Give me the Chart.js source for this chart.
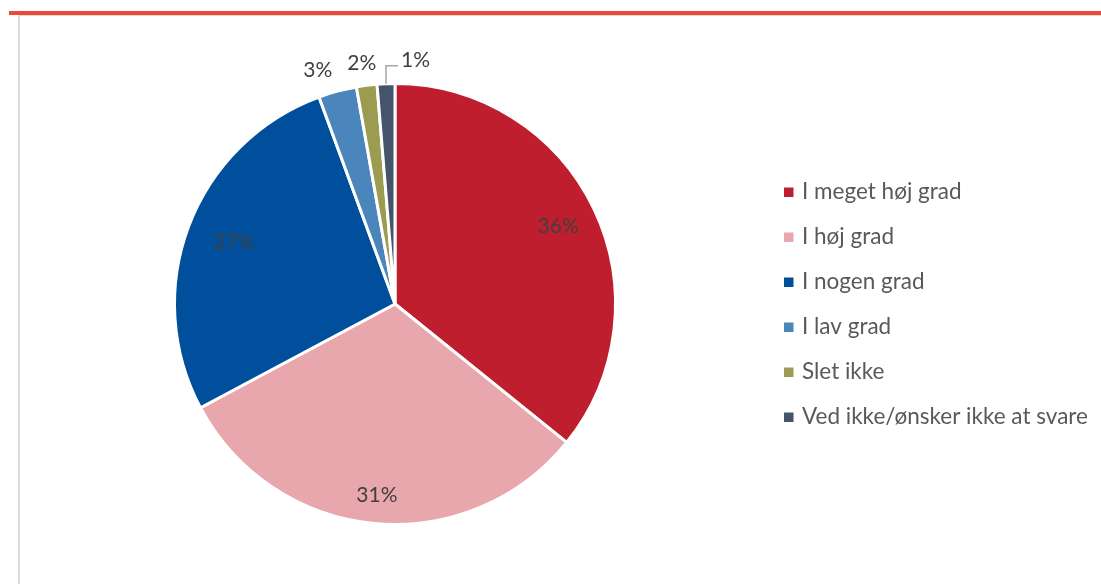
<!DOCTYPE html>
<html>
<head>
<meta charset="utf-8">
<script src="https://cdn.jsdelivr.net/npm/chart.js@4.4.1/dist/chart.umd.min.js"></script>
<style>
  html, body { margin: 0; padding: 0; background: #fff; }
  #wrap { position: relative; width: 1101px; height: 584px; overflow: hidden; }
  #topline { position: absolute; left: 9px; top: 11px; right: 0; height: 4px; background: #f04638; }
  #hline { position: absolute; left: 18px; top: 15px; right: 0; height: 1px; background: #dcdcdc; }
  #vline { position: absolute; left: 18px; top: 15px; bottom: 0; width: 2px; background: #dcdcdc; }
  canvas { position: absolute; left: 0; top: 0; }
</style>
</head>
<body>
<div id="wrap">
  <canvas id="chart" width="1101" height="584"></canvas>
  <div id="topline"></div>
  <div id="hline"></div>
  <div id="vline"></div>
</div>
<script>
const categories = [
  "I meget høj grad",
  "I høj grad",
  "I nogen grad",
  "I lav grad",
  "Slet ikke",
  "Ved ikke/ønsker ikke at svare"
];
const shares = [35.8, 31.4, 27.2, 2.8, 1.5, 1.3];
const colors = ["#be1e2d", "#e8a7ad", "#004f9c", "#4a85bb", "#9c9b52", "#44546a"];

const FONT = "Lato, 'Open Sans', sans-serif";

const pieLabels = {
  id: "pieLabels",
  afterDatasetsDraw(chart) {
    const ctx = chart.ctx;
    const meta = chart.getDatasetMeta(0);
    const insideR = [0.82, 0.87, 0.78];
    const outsideDx = { 3: -14, 4: -2 };
    ctx.save();
    ctx.font = "21px " + FONT;
    ctx.fillStyle = "#404040";
    ctx.textBaseline = "middle";
    meta.data.forEach(function (arc, i) {
      const p = arc.getProps(["x", "y", "startAngle", "endAngle", "outerRadius"], true);
      const mid = (p.startAngle + p.endAngle) / 2;
      const txt = Math.round(shares[i]) + "%";
      const cos = Math.cos(mid), sin = Math.sin(mid);
      if (i < 3) {
        const r = p.outerRadius * insideR[i];
        ctx.textAlign = "center";
        ctx.fillText(txt, p.x + cos * r, p.y + sin * r);
      } else if (i < 5) {
        const r = p.outerRadius * 1.1;
        ctx.textAlign = "center";
        ctx.fillText(txt, p.x + cos * r + outsideDx[i], p.y + sin * r);
      } else {
        const ax = p.x + cos * p.outerRadius;
        const ay = p.y + sin * p.outerRadius;
        const ey = ay - 18;
        ctx.strokeStyle = "#a6a6a6";
        ctx.lineWidth = 1.5;
        ctx.beginPath();
        ctx.moveTo(ax, ay);
        ctx.lineTo(ax, ey);
        ctx.lineTo(ax + 12, ey);
        ctx.stroke();
        ctx.textAlign = "left";
        ctx.fillText(txt, ax + 15, ey - 5);
      }
    });

    // legend
    ctx.font = "22.5px " + FONT;
    ctx.textAlign = "left";
    ctx.textBaseline = "middle";
    categories.forEach(function (name, i) {
      const y = 192 + i * 45;
      ctx.fillStyle = colors[i];
      ctx.fillRect(784, y - 4.5, 9.5, 9.5);
      ctx.fillStyle = "#595959";
      ctx.fillText(name, 802, y);
    });
    ctx.restore();
  }
};

new Chart(document.getElementById("chart"), {
  type: "pie",
  data: {
    labels: categories,
    datasets: [{
      data: shares,
      backgroundColor: colors,
      borderColor: "#ffffff",
      borderWidth: 3
    }]
  },
  options: {
    responsive: false,
    animation: false,
    layout: { padding: { left: 173, right: 484, top: 82, bottom: 58 } },
    plugins: {
      legend: { display: false },
      tooltip: { enabled: false }
    }
  },
  plugins: [pieLabels]
});
</script>
</body>
</html>
